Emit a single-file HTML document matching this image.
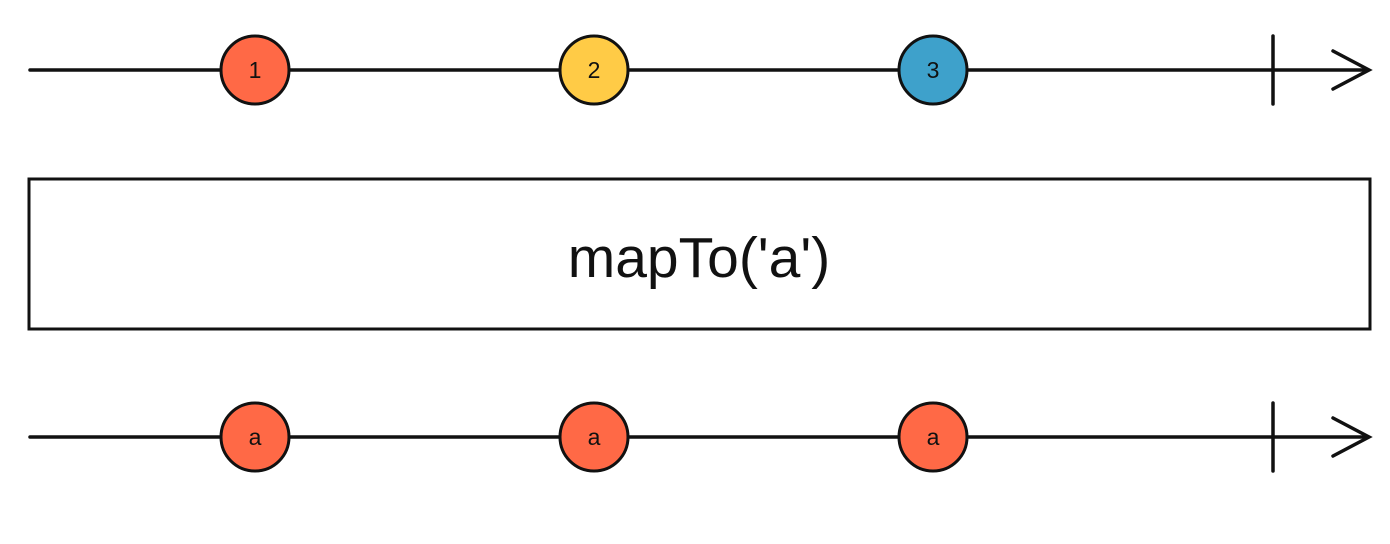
<!DOCTYPE html>
<html><head><style>body{margin:0;background:#fff}</style></head><body>
<svg width="1390" height="539" xmlns="http://www.w3.org/2000/svg" font-family="Liberation Sans, sans-serif">
<g stroke="#111" stroke-width="3.5" fill="none" stroke-linecap="round">
<line x1="30" y1="70" x2="1368" y2="70"/>
<line x1="1273" y1="36" x2="1273" y2="104"/>
<polyline points="1333,51 1369,70 1333,89"/>
<line x1="30" y1="437" x2="1368" y2="437"/>
<line x1="1273" y1="403" x2="1273" y2="471"/>
<polyline points="1333,418 1369,437 1333,456"/>
</g>
<g stroke="#111" stroke-width="3">
<circle cx="255" cy="70" r="34" fill="#ff6946"/>
<circle cx="594" cy="70" r="34" fill="#ffcb46"/>
<circle cx="933" cy="70" r="34" fill="#3ea1cb"/>
<circle cx="255" cy="437" r="34" fill="#ff6946"/>
<circle cx="594" cy="437" r="34" fill="#ff6946"/>
<circle cx="933" cy="437" r="34" fill="#ff6946"/>
</g>
<g font-size="23" text-anchor="middle" fill="#111">
<text x="255" y="78">1</text><text x="594" y="78">2</text><text x="933" y="78">3</text>
<text x="255" y="445">a</text><text x="594" y="445">a</text><text x="933" y="445">a</text>
</g>
<rect x="29" y="179" width="1341" height="150" fill="#fff" stroke="#111" stroke-width="3"/>
<text x="699" y="277" font-size="57" text-anchor="middle" fill="#111">mapTo('a')</text>
</svg>
</body></html>
